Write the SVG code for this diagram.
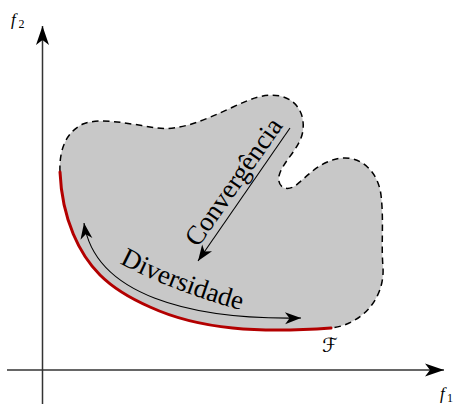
<svg xmlns="http://www.w3.org/2000/svg" width="453" height="404" viewBox="0 0 453 404">
<style>
.axis{stroke:#333;stroke-width:1.5;fill:none}
.region{fill:#c8c8c8;stroke:none}
.dash{fill:none;stroke:#000;stroke-width:1.5;stroke-dasharray:6.5,4.5}
.front{fill:none;stroke:#b30000;stroke-width:3;stroke-linecap:round}
.conn{fill:none;stroke:#000;stroke-width:1.1}
.lbl{font-family:"Liberation Serif",serif;fill:#000}
.script{font-family:"DejaVu Serif","DejaVu Sans",serif;fill:#000}
.math{font-family:"Liberation Serif",serif;font-style:italic;font-size:17px;fill:#000}
.sub{font-family:"Liberation Serif",serif;font-size:12px;fill:#000}
</style>
<defs>
<marker id="ah" viewBox="-17 -7 18 14" refX="0" refY="0" markerWidth="18" markerHeight="14" markerUnits="userSpaceOnUse" orient="auto-start-reverse">
<path d="M0,0 L-16,-6 L-11.5,0 L-16,6 Z" fill="#000"/>
</marker>
<marker id="axh" viewBox="-20 -8 21 16" refX="0" refY="0" markerWidth="21" markerHeight="16" markerUnits="userSpaceOnUse" orient="auto">
<path d="M0,0 L-19,-6.5 L-14,0 L-19,6.5 Z" fill="#000"/>
</marker>
</defs>
<g id="axes">
<line class="axis" x1="42.5" y1="404" x2="42.5" y2="26" marker-end="url(#axh)"/>
<line class="axis" x1="7" y1="370" x2="444" y2="370" marker-end="url(#axh)"/>
<text class="math" x="11" y="25">f</text><text class="sub" x="18.5" y="28">2</text>
<text class="math" x="440" y="399">f</text><text class="sub" x="447" y="402">1</text>
</g>
<g id="region">
<path class="region" d="M60,172 C59,150 66,132 83,124 C100,117 130,124 157,128 C180,131 205,120 233,107 C250,99 265,93 280,96 C295,99 305,112 303,130 C301,148 282,162 279,176 C277,186 285,192 295,186 C308,176 320,160 343,158 C362,157 378,172 381,195 C384,220 381,245 383,267 C385,300 360,325 331,328 C260,333 200,330 150,307 C125,296 110,285 100,275 C80,255 62,220 60,172 Z"/>
<path class="dash" d="M60,172 C59,150 66,132 83,124 C100,117 130,124 157,128 C180,131 205,120 233,107 C250,99 265,93 280,96 C295,99 305,112 303,130 C301,148 282,162 279,176 C277,186 285,192 295,186 C308,176 320,160 343,158 C362,157 378,172 381,195 C384,220 381,245 383,267 C385,300 360,325 331,328"/>
</g>
<g id="front">
<path class="front" d="M331,328 C260,333 200,330 150,307 C125,296 110,285 100,275 C80,255 62,220 60,172"/>
<text class="script" x="322" y="352" font-size="20">ℱ</text>
</g>
<g id="connectors">
<line class="conn" x1="290" y1="128" x2="198" y2="261" marker-end="url(#ah)"/>
<path class="conn" d="M84,223 C95,295 190,320 301,318" marker-start="url(#ah)" marker-end="url(#ah)"/>
</g>
<g id="labels">
<text class="lbl" font-size="27" transform="translate(198,248) rotate(-55)">Convergência</text>
<path id="divpath" d="M108,257 Q170,292 252,313" fill="none"/>
<text class="lbl" font-size="27"><textPath href="#divpath" startOffset="13">Diversidade</textPath></text>
</g>
</svg>
